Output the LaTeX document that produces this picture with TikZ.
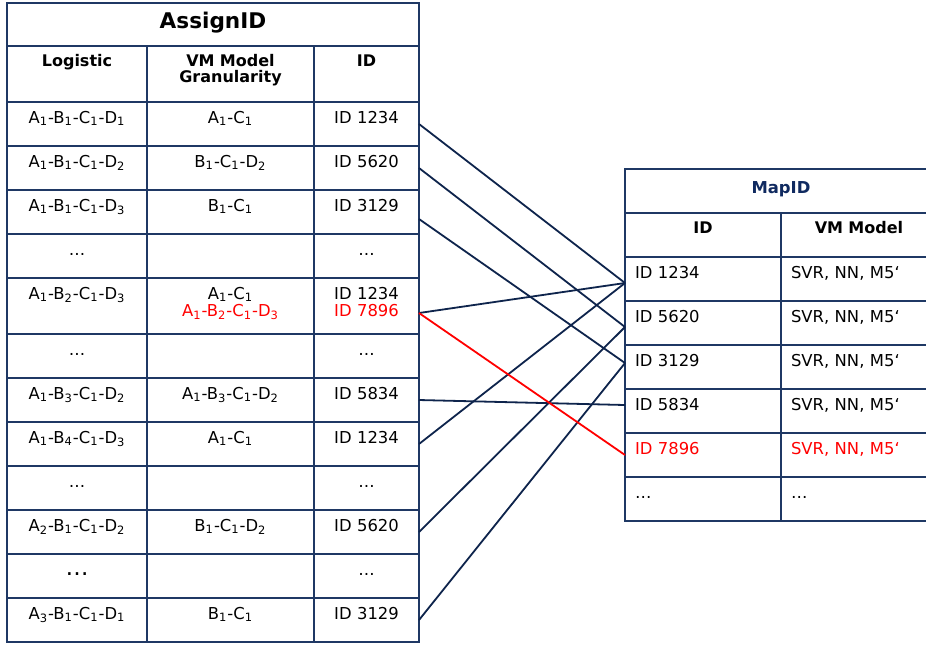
\documentclass[tikz,border=0pt]{standalone}
\usepackage{fontspec}
\setmainfont{DejaVu Sans}
\usetikzlibrary{positioning}
\definecolor{gridnavy}{RGB}{31,56,100}
\definecolor{linknavy}{RGB}{14,36,76}
\definecolor{titlenavy}{RGB}{16,42,96}
\definecolor{hitred}{RGB}{255,0,0}
\newcommand{\lv}[2]{#1\textsubscript{#2}}

\begin{document}
\begin{tikzpicture}[
  x=0.5pt, y=-0.5pt,
  font=\fontsize{8.2}{8.8}\selectfont,
  cell/.style={draw=gridnavy, line width=0.8pt, inner sep=0pt, outer sep=0pt,
               align=center, text height=10.5pt, text depth=11.5pt},
  tall/.style={text depth=17.5pt},
  logcol/.style={cell, text width=70pt},
  grancol/.style={cell, text width=83.5pt},
  idcol/.style={cell, text width=52.5pt},
  head/.style={font=\bfseries\fontsize{8}{7.8}\selectfont,
               text height=10.4pt, text depth=17.6pt},
  maphead/.style={cell, text width=78pt, font=\bfseries\fontsize{8}{9}\selectfont,
                  text height=10.2pt, text depth=11.8pt},
  mapcol/.style={cell, text width=68pt, inner xsep=5pt, align=left},
  link/.style={draw=linknavy, line width=0.9pt}
]
\clip (0,0) rectangle (926,645);
\fill[white] (0,0) rectangle (926,645);

% AssignID table
\node[cell, text width=206pt, font=\bfseries\fontsize{10.8}{12}\selectfont,
      text height=12.5pt, text depth=9pt, anchor=north west] (assign) at (7,3) {AssignID};
\node[logcol, head, below right=0pt and 0pt of assign.south west] (hlog) {Logistic};
\node[grancol, head, right=0pt of hlog] (hgran) {VM Model\\Granularity};
\node[idcol, head, right=0pt of hgran] (hid) {ID};

\node[logcol, below=0pt of hlog] (l1) {\lv A1-\lv B1-\lv C1-\lv D1};
\node[grancol, right=0pt of l1] (g1) {\lv A1-\lv C1};
\node[idcol, right=0pt of g1] (id1) {ID 1234};

\node[logcol, below=0pt of l1] (l2) {\lv A1-\lv B1-\lv C1-\lv D2};
\node[grancol, right=0pt of l2] (g2) {\lv B1-\lv C1-\lv D2};
\node[idcol, right=0pt of g2] (id2) {ID 5620};

\node[logcol, below=0pt of l2] (l3) {\lv A1-\lv B1-\lv C1-\lv D3};
\node[grancol, right=0pt of l3] (g3) {\lv B1-\lv C1};
\node[idcol, right=0pt of g3] (id3) {ID 3129};

\node[logcol, below=0pt of l3] (l4) {…};
\node[grancol, right=0pt of l4] (g4) {};
\node[idcol, right=0pt of g4] (id4) {…};

\node[logcol, tall, below=0pt of l4] (l5) {\lv A1-\lv B2-\lv C1-\lv D3};
\node[grancol, tall, right=0pt of l5] (g5) {\lv A1-\lv C1\\{\color{hitred}\lv A1-\lv B2-\lv C1-\lv D3}};
\node[idcol, tall, right=0pt of g5] (id5) {ID 1234\\{\color{hitred}ID 7896}};

\node[logcol, below=0pt of l5] (l6) {…};
\node[grancol, right=0pt of l6] (g6) {};
\node[idcol, right=0pt of g6] (id6) {…};

\node[logcol, below=0pt of l6] (l7) {\lv A1-\lv B3-\lv C1-\lv D2};
\node[grancol, right=0pt of l7] (g7) {\lv A1-\lv B3-\lv C1-\lv D2};
\node[idcol, right=0pt of g7] (id7) {ID 5834};

\node[logcol, below=0pt of l7] (l8) {\lv A1-\lv B4-\lv C1-\lv D3};
\node[grancol, right=0pt of l8] (g8) {\lv A1-\lv C1};
\node[idcol, right=0pt of g8] (id8) {ID 1234};

\node[logcol, below=0pt of l8] (l9) {…};
\node[grancol, right=0pt of l9] (g9) {};
\node[idcol, right=0pt of g9] (id9) {…};

\node[logcol, below=0pt of l9] (l10) {\lv A2-\lv B1-\lv C1-\lv D2};
\node[grancol, right=0pt of l10] (g10) {\lv B1-\lv C1-\lv D2};
\node[idcol, right=0pt of g10] (id10) {ID 5620};

\node[logcol, below=0pt of l10] (l11) {\fontsize{11.5}{12}\selectfont …};
\node[grancol, right=0pt of l11] (g11) {};
\node[idcol, right=0pt of g11] (id11) {…};

\node[logcol, below=0pt of l11] (l12) {\lv A3-\lv B1-\lv C1-\lv D1};
\node[grancol, right=0pt of l12] (g12) {\lv B1-\lv C1};
\node[idcol, right=0pt of g12] (id12) {ID 3129};

% MapID table
\node[cell, text width=156pt, font=\bfseries\fontsize{8.2}{10}\selectfont, text=titlenavy,
      text height=12.2pt, text depth=9.8pt, anchor=north west] (mapid) at (625,169) {MapID};
\node[maphead, below right=0pt and 0pt of mapid.south west] (mhid) {ID};
\node[maphead, right=0pt of mhid] (mhvm) {VM Model};

\node[mapcol, below=0pt of mhid] (m1) {ID 1234};
\node[mapcol, right=0pt of m1] (v1) {SVR, NN, M5‘};
\node[mapcol, below=0pt of m1] (m2) {ID 5620};
\node[mapcol, right=0pt of m2] (v2) {SVR, NN, M5‘};
\node[mapcol, below=0pt of m2] (m3) {ID 3129};
\node[mapcol, right=0pt of m3] (v3) {SVR, NN, M5‘};
\node[mapcol, below=0pt of m3] (m4) {ID 5834};
\node[mapcol, right=0pt of m4] (v4) {SVR, NN, M5‘};
\node[mapcol, text=hitred, below=0pt of m4] (m5) {ID 7896};
\node[mapcol, text=hitred, right=0pt of m5] (v5) {SVR, NN, M5‘};
\node[mapcol, below=0pt of m5] (m6) {…};
\node[mapcol, right=0pt of m6] (v6) {…};

% ID links
\draw[link] (id1.east) -- ([yshift=-2pt]m1.west);
\draw[link] (id2.east) -- ([yshift=-2pt]m2.west);
\draw[link] ([yshift=-3.5pt]id3.east) -- ([yshift=2pt]m3.west);
\draw[link] ([yshift=-3.5pt]id5.east) -- ([yshift=-2pt]m1.west);
\draw[link] (id7.east) -- ([yshift=3pt]m4.west);
\draw[link] (id8.east) -- ([yshift=-2pt]m1.west);
\draw[link] (id10.east) -- ([yshift=-2pt]m2.west);
\draw[link] (id12.east) -- ([yshift=2pt]m3.west);
\draw[link, draw=hitred] ([yshift=-3.5pt]id5.east) -- (m5.west);
\end{tikzpicture}
\end{document}
